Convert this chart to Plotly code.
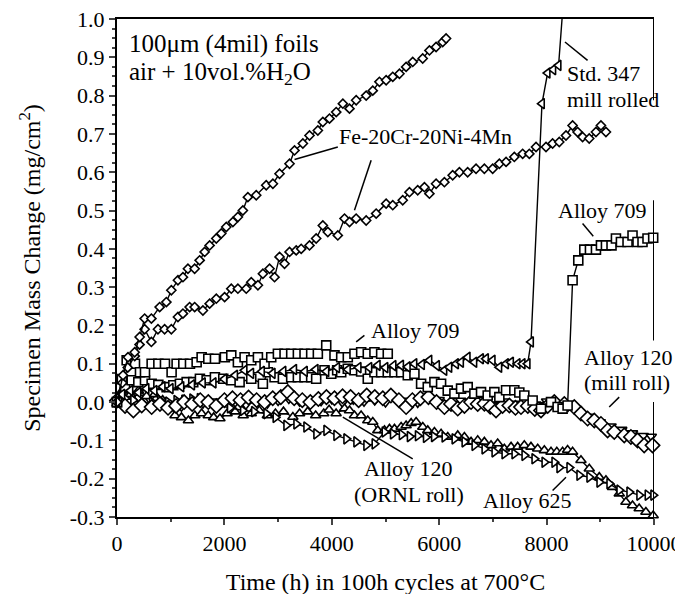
import plotly.graph_objects as go

FONT = "Liberation Serif, Times New Roman, Times, serif"

# ---------------- data ----------------
fe_a_t = [0, 112, 205, 329, 422, 515, 640, 794, 919, 1012, 1135, 1228, 1321, 1446, 1539, 1632, 1725, 1849, 1942, 2035,
          2158, 2251, 2344, 2437, 2593, 2779, 2903, 3027, 3213, 3306, 3461, 3585, 3740, 3833, 3957, 4082, 4206, 4330,
          4454, 4640, 4763, 4887, 5012, 5135, 5260, 5384, 5507, 5693, 5818, 5942, 6065, 6128]
fe_a_v = [0, 0.07, 0.117, 0.13, 0.17, 0.218, 0.218, 0.248, 0.261, 0.292, 0.318, 0.326, 0.348, 0.348, 0.37, 0.392, 0.409,
          0.427, 0.44, 0.457, 0.47, 0.483, 0.50, 0.535, 0.54, 0.566, 0.57, 0.596, 0.622, 0.657, 0.675, 0.696, 0.709,
          0.731, 0.74, 0.757, 0.779, 0.766, 0.788, 0.80, 0.813, 0.836, 0.84, 0.849, 0.857, 0.875, 0.888, 0.897, 0.918,
          0.927, 0.94, 0.949]

fe_b_t = [0, 100, 200, 330, 420, 515, 640, 763, 887, 1012, 1135, 1228, 1352, 1446, 1600, 1725, 1849, 2004, 2128, 2251,
          2407, 2500, 2624, 2717, 2841, 2934, 3027, 3120, 3213, 3337, 3430, 3585, 3709, 3833, 3926, 4112, 4237, 4330,
          4453, 4640, 4826, 5012, 5135, 5321, 5446, 5600, 5725, 5818, 5942, 6097, 6251, 6376, 6530, 6686, 6841, 6996,
          7120, 7245, 7399, 7554, 7678, 7803, 7989, 8112, 8236, 8361, 8484, 8577, 8670, 8794, 8919, 9012, 9105]
fe_b_v = [0, 0.05, 0.09, 0.12, 0.15, 0.19, 0.157, 0.19, 0.19, 0.19, 0.222, 0.231, 0.248, 0.248, 0.239, 0.257, 0.27,
          0.274, 0.296, 0.296, 0.296, 0.313, 0.305, 0.335, 0.348, 0.326, 0.379, 0.361, 0.392, 0.396, 0.40, 0.409, 0.427,
          0.461, 0.444, 0.435, 0.479, 0.47, 0.479, 0.474, 0.492, 0.518, 0.514, 0.527, 0.548, 0.553, 0.561, 0.544, 0.57,
          0.574, 0.592, 0.60, 0.60, 0.609, 0.609, 0.609, 0.622, 0.627, 0.64, 0.648, 0.648, 0.666, 0.666, 0.675, 0.679,
          0.696, 0.722, 0.705, 0.692, 0.688, 0.705, 0.722, 0.705]

a709a_t = [0, 90, 180, 335, 428, 521, 645, 770, 893, 1017, 1110, 1235, 1359, 1483, 1576, 1700, 1824, 2009, 2128, 2251,
           2376, 2500, 2624, 2748, 2872, 2996, 3120, 3244, 3368, 3492, 3616, 3740, 3896, 4050, 4175, 4298, 4422, 4547,
           4670, 4794, 4919, 5042]
a709a_v = [0, 0.06, 0.109, 0.10, 0.078, 0.078, 0.10, 0.10, 0.10, 0.078, 0.10, 0.10, 0.10, 0.104, 0.117, 0.113, 0.113,
           0.117, 0.122, 0.104, 0.117, 0.109, 0.117, 0.10, 0.117, 0.126, 0.126, 0.126, 0.126, 0.126, 0.126, 0.126,
           0.148, 0.122, 0.117, 0.117, 0.126, 0.13, 0.126, 0.13, 0.126, 0.126]

a709b_t = [0, 150, 273, 397, 521, 645, 770, 924, 1049, 1172, 1297, 1420, 1544, 1669, 1823, 1979, 2128, 2283, 2500,
           2717, 2810, 2934, 3089, 3244, 3368, 3492, 3616, 3709, 3864, 3989, 4100, 4175, 4298, 4422, 4546, 4670, 4794,
           4919, 5042, 5167, 5291, 5415, 5539, 5663, 5787, 5911, 6035, 6159, 6283, 6407, 6531, 6655, 6779, 6903, 7027,
           7120, 7245, 7399, 7492, 7585, 7740, 7896, 8082, 8205, 8298, 8391, 8484, 8590, 8702, 8807, 8919, 9012, 9105,
           9209, 9291, 9384, 9507, 9600, 9693, 9786, 9879, 9985]
a709b_v = [0, 0.04, 0.057, 0.052, 0.057, 0.048, 0.045, 0.039, 0.044, 0.048, 0.052, 0.052, 0.061, 0.057, 0.065, 0.061,
           0.057, 0.052, 0.061, 0.048, 0.078, 0.065, 0.061, 0.065, 0.065, 0.065, 0.065, 0.061, 0.083, 0.074, 0.083,
           0.078, 0.087, 0.083, 0.08, 0.061, 0.078, 0.078, 0.078, 0.078, 0.078, 0.07, 0.074, 0.048, 0.039, 0.052, 0.048,
           0.03, 0.022, 0.035, 0.039, 0.022, 0.026, 0.017, 0.026, 0.013, 0.031, 0.031, 0.025, 0.017, 0.004, -0.017, 0.0,
           -0.013, -0.017, -0.009, 0.318, 0.37, 0.398, 0.398, 0.398, 0.409, 0.409, 0.409, 0.427, 0.418, 0.418, 0.435,
           0.418, 0.418, 0.427, 0.429]

s347_t = [0, 100, 250, 400, 550, 700, 850, 1000, 1200, 1400, 1600, 1800, 2000, 2200, 2376, 2500, 2700, 2900, 3100, 3300,
          3500, 3700, 3900, 4100, 4300, 4500, 4700, 4856, 5000, 5150, 5291, 5415, 5539, 5680, 5818, 5960, 6097, 6190,
          6314, 6407, 6531, 6655, 6779, 6872, 6996, 7120, 7245, 7338, 7461, 7554, 7647, 7710, 7914, 8019, 8125, 8223,
          8330]
s347_v = [0, 0.02, 0.03, 0.025, 0.035, 0.03, 0.04, 0.035, 0.04, 0.045, 0.05, 0.05, 0.06, 0.07, 0.083, 0.075, 0.08,
          0.075, 0.08, 0.085, 0.08, 0.085, 0.08, 0.09, 0.085, 0.09, 0.09, 0.096, 0.09, 0.095, 0.096, 0.092, 0.10, 0.098,
          0.109, 0.095, 0.083, 0.091, 0.10, 0.104, 0.117, 0.104, 0.113, 0.113, 0.109, 0.091, 0.10, 0.104, 0.10, 0.10,
          0.10, 0.157, 0.779, 0.859, 0.868, 0.879, 1.08]

a120m_t = [0, 150, 305, 460, 645, 800, 950, 1100, 1250, 1400, 1550, 1700, 1850, 2000, 2150, 2300, 2450, 2600, 2750,
           2900, 3050, 3182, 3300, 3450, 3600, 3750, 3900, 4050, 4200, 4350, 4500, 4650, 4800, 4950, 5100, 5250, 5384,
           5500, 5650, 5800, 5950, 6097, 6220, 6345, 6470, 6593, 6717, 6841, 6950, 7058, 7180, 7307, 7420, 7523, 7650,
           7780, 7896, 8020, 8143, 8330, 8515, 8640, 8763, 8888, 9012, 9136, 9260, 9446, 9570, 9693, 9817, 9972]
a120m_v = [0.004, -0.01, -0.022, -0.009, -0.013, -0.005, -0.015, -0.01, 0.0, -0.005, 0.005, 0.0, -0.01, 0.005, 0.01,
           0.005, 0.012, 0.005, 0.0, 0.01, 0.013, 0.026, 0.01, 0.005, 0.0, 0.008, 0.013, 0.01, 0.015, 0.013, 0.005,
           0.017, 0.013, 0.01, 0.017, 0.005, -0.013, 0.005, 0.01, 0.013, 0.0, -0.013, -0.005, -0.017, -0.01, 0.0, -0.005,
           -0.004, -0.012, -0.022, -0.01, -0.009, -0.015, -0.013, -0.01, -0.018, -0.022, -0.01, 0.0, -0.005, -0.013,
           -0.03, -0.043, -0.048, -0.057, -0.074, -0.078, -0.087, -0.091, -0.10, -0.113, -0.113]

a120m2_t = [0, 200, 400, 600, 800, 1000, 1200, 1400, 1600, 1800, 2000, 2200, 2400, 2600, 2800, 3000, 3200, 3400, 3600,
            3800, 4000, 4200, 4400, 4600, 4800, 5000, 5200, 5400, 5600, 5800, 6000, 6200, 6400, 6600, 6800, 7000, 7200,
            7400, 7600, 7800, 8000, 8200, 8400, 8600, 8800, 9000, 9200, 9400, 9600, 9800, 9950]
a120m2_v = [0.0, 0.022, 0.012, 0.009, -0.002, -0.006, -0.012, 0.003, -0.004, 0.002, 0.006, -0.001, -0.007, 0.002,
            -0.004, 0.003, 0.008, 0.001, -0.006, 0.002, 0.007, -0.002, 0.006, 0.001, 0.004, -0.001, 0.011, 0.004,
            -0.002, 0.012, 0.006, -0.003, 0.004, 0.001, 0.006, -0.006, 0.002, -0.004, 0.001, -0.006, 0.002, -0.004,
            -0.012, -0.026, -0.038, -0.052, -0.063, -0.072, -0.081, -0.088, -0.09]

a120o_t = [0, 100, 250, 400, 550, 700, 850, 1000, 1080, 1200, 1330, 1450, 1576, 1700, 1800, 1917, 2050, 2200, 2350,
           2500, 2650, 2800, 2950, 3100, 3275, 3400, 3550, 3700, 3850, 3950, 4080, 4237, 4330, 4422, 4546, 4670, 4763,
           4856, 4981, 5074, 5167, 5291, 5384, 5477, 5570, 5694, 5787, 5911, 6035, 6159, 6345, 6469, 6593, 6717, 6841,
           6965, 7089, 7213, 7338, 7461, 7585, 7709, 7834, 7958, 8082, 8190, 8298, 8391, 8484, 8640, 8795, 8981, 9105,
           9228, 9353, 9477, 9600, 9724, 9849, 9985]
a120o_v = [-0.004, 0.03, 0.02, 0.03, 0.015, 0.02, 0.005, -0.01, -0.035, -0.04, -0.048, -0.035, -0.03, -0.035, -0.04,
           -0.043, -0.03, -0.025, -0.035, -0.03, -0.022, -0.035, -0.03, -0.025, -0.039, -0.03, -0.025, -0.035, -0.03,
           -0.02, -0.03, -0.017, -0.022, -0.035, -0.035, -0.048, -0.052, -0.074, -0.074, -0.07, -0.07, -0.065, -0.061,
           -0.055, -0.052, -0.065, -0.074, -0.078, -0.083, -0.091, -0.087, -0.091, -0.104, -0.10, -0.104, -0.113,
           -0.108, -0.122, -0.117, -0.117, -0.113, -0.117, -0.122, -0.126, -0.13, -0.13, -0.13, -0.125, -0.13, -0.152,
           -0.174, -0.196, -0.204, -0.222, -0.239, -0.261, -0.27, -0.278, -0.287, -0.296]

a625_t = [0, 150, 300, 484, 650, 800, 950, 1105, 1250, 1400, 1539, 1700, 1910, 2100, 2344, 2550, 2779, 2950, 3151,
          3337, 3523, 3709, 3896, 4082, 4268, 4454, 4640, 4794, 4981, 5135, 5300, 5450, 5600, 5750, 5900, 6097, 6283,
          6469, 6655, 6841, 7027, 7213, 7399, 7585, 7771, 7958, 8143, 8236, 8422, 8608, 8794, 8981, 9167, 9353, 9539,
          9724, 9879, 9985]
a625_v = [0.0, 0.01, 0.005, -0.004, 0.0, 0.005, 0.0, 0.004, 0.005, 0.008, 0.009, 0.0, -0.009, -0.015, -0.022, -0.025,
          -0.03, -0.04, -0.061, -0.057, -0.065, -0.083, -0.074, -0.087, -0.096, -0.104, -0.113, -0.109, -0.078, -0.083,
          -0.085, -0.09, -0.088, -0.092, -0.09, -0.091, -0.096, -0.104, -0.113, -0.122, -0.13, -0.135, -0.135, -0.139,
          -0.148, -0.157, -0.157, -0.171, -0.171, -0.191, -0.196, -0.209, -0.213, -0.23, -0.235, -0.243, -0.243, -0.243]

x_ticks = [0, 2000, 4000, 6000, 8000, 10000]
x_labels = ["0", "2000", "4000", "6000", "8000", "10000"]
y_ticks = [-0.3, -0.2, -0.1, 0.0, 0.1, 0.2, 0.3, 0.4, 0.5, 0.6, 0.7, 0.8, 0.9, 1.0]
y_labels = ["-0.3", "-0.2", "-0.1", "0.0", "0.1", "0.2", "0.3", "0.4", "0.5", "0.6", "0.7", "0.8", "0.9", "1.0"]

# ---------------- figure ----------------
fig = go.Figure()


def add(t, v, symbol, size, clip=False):
    fig.add_trace(go.Scatter(
        x=t, y=v, mode="lines+markers", cliponaxis=clip,
        line=dict(color="black", width=1.4),
        marker=dict(symbol=symbol, size=size, color="white", line=dict(color="black", width=1.6)),
        showlegend=False))


add(a120m2_t, a120m2_v, "triangle-down", 9)
add(a120o_t, a120o_v, "triangle-up", 9)
add(a625_t, a625_v, "triangle-right", 9)
add(a120m_t, a120m_v, "diamond", 11)
add(a709b_t, a709b_v, "square", 9)
add(a709a_t, a709a_v, "square", 9)
add(s347_t, s347_v, "triangle-left", 9, clip=True)
add(fe_b_t, fe_b_v, "diamond", 7)
add(fe_a_t, fe_a_v, "diamond", 7)

tf = dict(family=FONT, size=22, color="black")

annots = [
    (182, 0.936, "100μm (4mil) foils", "left", 25),
    (182, 0.858, "air + 10vol.%H<sub>2</sub>O", "left", 25),
    (4101, 0.694, "Fe-20Cr-20Ni-4Mn", "left", 22),
    (8342, 0.858, "Std. 347", "left", 22),
    (8342, 0.791, "mill rolled", "left", 22),
    (8175, 0.50, "Alloy 709", "left", 22),
    (4688, 0.187, "Alloy 709", "left", 22),
    (8659, 0.117, "Alloy 120", "left", 22),
    (8659, 0.050, "(mill roll)", "left", 22),
    (5433, -0.174, "Alloy 120", "center", 22),
    (5433, -0.241, "(ORNL roll)", "center", 22),
    (6780, -0.257, "Alloy 625", "left", 22),
]
for x, y, txt, anc, fs in annots:
    fig.add_annotation(x=x, y=y, text=txt, xref="x", yref="y", showarrow=False, xanchor=anc,
                       yanchor="middle", font=dict(family=FONT, size=fs, color="black"))

pointers = [
    (4112, 0.666, 3306, 0.633),
    (4733, 0.631, 4422, 0.501),
    (8342, 0.94, 8763, 0.892),
    (8670, 0.466, 8869, 0.433),
    (4607, 0.174, 4454, 0.157),
    (9352, 0.013, 9166, -0.013),
    (4205, -0.039, 5507, -0.148),
    (8112, -0.231, 8361, -0.196),
]
for x0, y0, x1, y1 in pointers:
    fig.add_shape(type="line", x0=x0, y0=y0, x1=x1, y1=y1, xref="x", yref="y",
                  line=dict(color="black", width=1.5), layer="above")

# right border with gaps where labels sit
for y0, y1 in [(1.0, 0.788), (0.527, 0.161), (0.0, -0.3)]:
    fig.add_shape(type="line", x0=10000, x1=10000, y0=y0, y1=y1, xref="x", yref="y",
                  line=dict(color="black", width=2), layer="above")

fig.update_layout(
    width=683, height=594,
    margin=dict(l=109, r=37, t=11, b=85),
    plot_bgcolor="white", paper_bgcolor="white",
    font=tf,
    xaxis=dict(range=[0, 10000], tickvals=x_ticks, ticktext=x_labels, ticks="outside", ticklen=6, tickwidth=1.5,
               showline=True, linewidth=2, linecolor="black", mirror=True, showgrid=False, zeroline=False,
               minor=dict(dtick=1000, tick0=0, ticks="outside", ticklen=3, tickwidth=1.5, showgrid=False),
               title=dict(text="Time (h) in 100h cycles at 700°C", font=dict(family=FONT, size=24), standoff=18),
               tickfont=tf, automargin=False, ticklabeloverflow="allow"),
    yaxis=dict(range=[-0.3, 1.0], tickvals=y_ticks, ticktext=y_labels, ticks="outside", ticklen=6, tickwidth=1.5,
               showline=True, linewidth=2, linecolor="black", mirror=False, showgrid=False, zeroline=False,
               minor=dict(dtick=0.025, tick0=0, ticks="outside", ticklen=3, tickwidth=1.5, showgrid=False),
               title=dict(text="Specimen Mass Change (mg/cm<sup>2</sup>)", font=dict(family=FONT, size=24),
                          standoff=22),
               tickfont=tf, automargin=False, ticklabeloverflow="allow"),
)

fig.write_html("out.html")
